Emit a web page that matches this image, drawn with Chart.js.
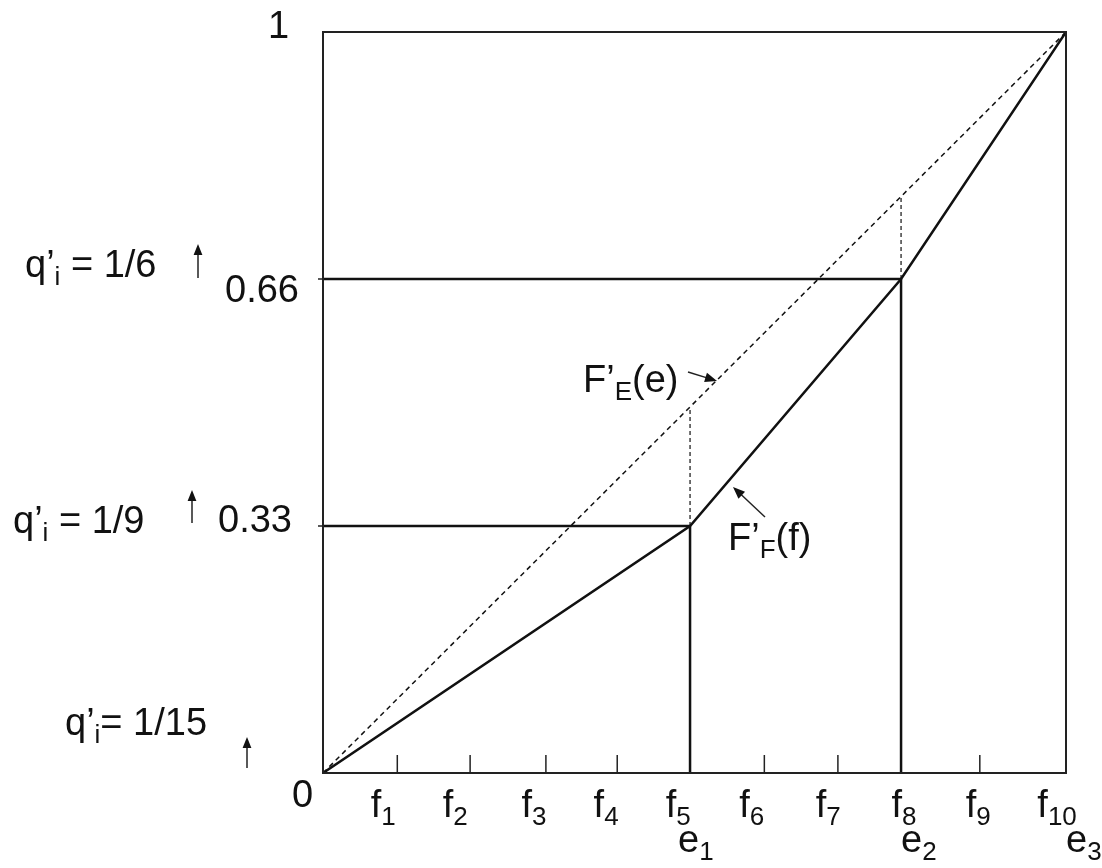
<!DOCTYPE html>
<html>
<head>
<meta charset="utf-8">
<script src="https://cdn.jsdelivr.net/npm/chart.js@4.4.1/dist/chart.umd.min.js"></script>
<style>
  html, body { margin: 0; background: #fff; }
  #wrap { width: 1102px; height: 868px; }
</style>
</head>
<body>
<div id="wrap"><canvas id="chart" width="1102" height="868"></canvas></div>
<script>
// x runs 0..10 (f1..f10), y runs 0..1
const fTicks = [1.0, 1.98, 3.0, 3.96, 4.94, 5.94, 6.93, 7.78, 8.84, 10];
const fLabelX = [0.81, 1.78, 2.84, 3.81, 4.78, 5.77, 6.80, 7.82, 8.82, 9.88];
const fSubs = ["1", "2", "3", "4", "5", "6", "7", "8", "9", "10"];
const eX = [4.94, 7.78, 10];
const eSubs = ["1", "2", "3"];
const levels = [1 / 3, 2 / 3];
const levelLabels = ["0.33", "0.66"];
const qLabels = ["1/15", "1/9", "1/6"];
const diagX = [0, 10];
const diagY = [0, 1];
const curveX = [0, 4.94, 7.78, 10];
const curveY = [0, 1 / 3, 2 / 3, 1];

const FONT = '"Liberation Sans", Arial, sans-serif';
const BIG = 38, SMALL = 26;

function pts(xs, ys) {
  return xs.map((x, i) => ({ x: x, y: ys[i] }));
}

// segments split by nulls
const hSegs = [], vSegs = [], dSegs = [];
levels.forEach((l, i) => {
  hSegs.push({ x: 0, y: l }, { x: eX[i], y: l }, { x: null, y: null });
  vSegs.push({ x: eX[i], y: 0 }, { x: eX[i], y: l }, { x: null, y: null });
  dSegs.push({ x: eX[i], y: l }, { x: eX[i], y: eX[i] / 10 }, { x: null, y: null });
});

// draws text made of parts, some of them subscripts
function drawParts(ctx, parts, x, y, align) {
  let w = 0;
  parts.forEach(p => {
    ctx.font = (p.sub ? SMALL : BIG) + "px " + FONT;
    p.w = ctx.measureText(p.t).width;
    w += p.w;
  });
  let cx = align === "center" ? x - w / 2 : align === "right" ? x - w : x;
  ctx.textAlign = "left";
  ctx.textBaseline = "alphabetic";
  parts.forEach(p => {
    ctx.font = (p.sub ? SMALL : BIG) + "px " + FONT;
    ctx.fillText(p.t, cx, p.sub ? y + 8 : y);
    cx += p.w;
  });
}

function arrow(ctx, x1, y1, x2, y2, head, lw) {
  const a = Math.atan2(y2 - y1, x2 - x1);
  ctx.lineWidth = lw;
  ctx.beginPath();
  ctx.moveTo(x1, y1);
  ctx.lineTo(x2 - Math.cos(a) * head * 0.8, y2 - Math.sin(a) * head * 0.8);
  ctx.stroke();
  ctx.beginPath();
  ctx.moveTo(x2, y2);
  ctx.lineTo(x2 - head * Math.cos(a) + head * 0.4 * Math.sin(a), y2 - head * Math.sin(a) - head * 0.4 * Math.cos(a));
  ctx.lineTo(x2 - head * Math.cos(a) - head * 0.4 * Math.sin(a), y2 - head * Math.sin(a) + head * 0.4 * Math.cos(a));
  ctx.closePath();
  ctx.fill();
}

const decorPlugin = {
  id: "decor",
  afterDatasetsDraw(chart) {
    const ctx = chart.ctx;
    const xs = chart.scales.x, ys = chart.scales.y;
    const a = chart.chartArea;
    ctx.save();
    ctx.strokeStyle = "#222";
    ctx.fillStyle = "#111";

    // frame
    ctx.lineWidth = 2;
    ctx.strokeRect(a.left, a.top, a.right - a.left, a.bottom - a.top);

    // inner ticks on x
    ctx.lineWidth = 1.5;
    fTicks.forEach(v => {
      if (eX.includes(v)) return;
      const px = xs.getPixelForValue(v);
      ctx.beginPath();
      ctx.moveTo(px, a.bottom);
      ctx.lineTo(px, a.bottom - 18);
      ctx.stroke();
    });
    // small ticks on y
    levels.forEach(l => {
      const py = ys.getPixelForValue(l);
      ctx.beginPath();
      ctx.moveTo(a.left - 5, py);
      ctx.lineTo(a.left, py);
      ctx.stroke();
    });

    // x labels
    fLabelX.forEach((v, i) => {
      drawParts(ctx, [{ t: "f" }, { t: fSubs[i], sub: true }], xs.getPixelForValue(v), 817, "center");
    });
    eX.forEach((v, i) => {
      const px = xs.getPixelForValue(v);
      drawParts(ctx, [{ t: "e" }, { t: eSubs[i], sub: true }], px + (i === 0 ? -12 : 0), 852, "left");
    });

    // y labels
    ctx.font = BIG + "px " + FONT;
    ctx.textAlign = "left";
    ctx.fillText("0", 292, 807);
    ctx.fillText("1", 268, 38);
    ctx.fillText(levelLabels[0], 218, 532);
    ctx.fillText(levelLabels[1], 225, 302);

    // q'i annotations
    drawParts(ctx, [{ t: "q’" }, { t: "i", sub: true }, { t: "= " + qLabels[0] }], 65, 735, "left");
    drawParts(ctx, [{ t: "q’" }, { t: "i", sub: true }, { t: " = " + qLabels[1] }], 13, 533, "left");
    drawParts(ctx, [{ t: "q’" }, { t: "i", sub: true }, { t: " = " + qLabels[2] }], 25, 277, "left");
    arrow(ctx, 247, 768, 247, 737, 11, 1.5);
    arrow(ctx, 192, 523, 192, 490, 11, 1.5);
    arrow(ctx, 198, 278, 198, 244, 11, 1.5);

    // curve labels
    drawParts(ctx, [{ t: "F’" }, { t: "E", sub: true }, { t: "(e)" }], 583, 392, "left");
    arrow(ctx, 688, 372, 717, 381, 12, 1.5);
    drawParts(ctx, [{ t: "F’" }, { t: "F", sub: true }, { t: "(f)" }], 728, 550, "left");
    arrow(ctx, 765, 517, 733, 487, 12, 1.5);

    ctx.restore();
  }
};

const lineBase = { showLine: true, pointRadius: 0, fill: false, borderColor: "#111", spanGaps: false };

new Chart(document.getElementById("chart"), {
  type: "scatter",
  data: {
    datasets: [
      Object.assign({ label: "diag", data: pts(diagX, diagY), borderWidth: 1.5, borderDash: [5, 4] }, lineBase),
      Object.assign({ label: "curve", data: pts(curveX, curveY), borderWidth: 2.5 }, lineBase),
      Object.assign({ label: "h", data: hSegs, borderWidth: 2.5 }, lineBase),
      Object.assign({ label: "v", data: vSegs, borderWidth: 2.5 }, lineBase),
      Object.assign({ label: "d", data: dSegs, borderWidth: 1.2, borderDash: [4, 3] }, lineBase)
    ]
  },
  options: {
    responsive: false,
    animation: false,
    layout: { padding: { left: 323, top: 32, right: 36, bottom: 95 } },
    plugins: { legend: { display: false }, tooltip: { enabled: false } },
    scales: {
      x: { type: "linear", min: 0, max: 10, display: false },
      y: { type: "linear", min: 0, max: 1, display: false }
    }
  },
  plugins: [decorPlugin]
});
</script>
</body>
</html>
